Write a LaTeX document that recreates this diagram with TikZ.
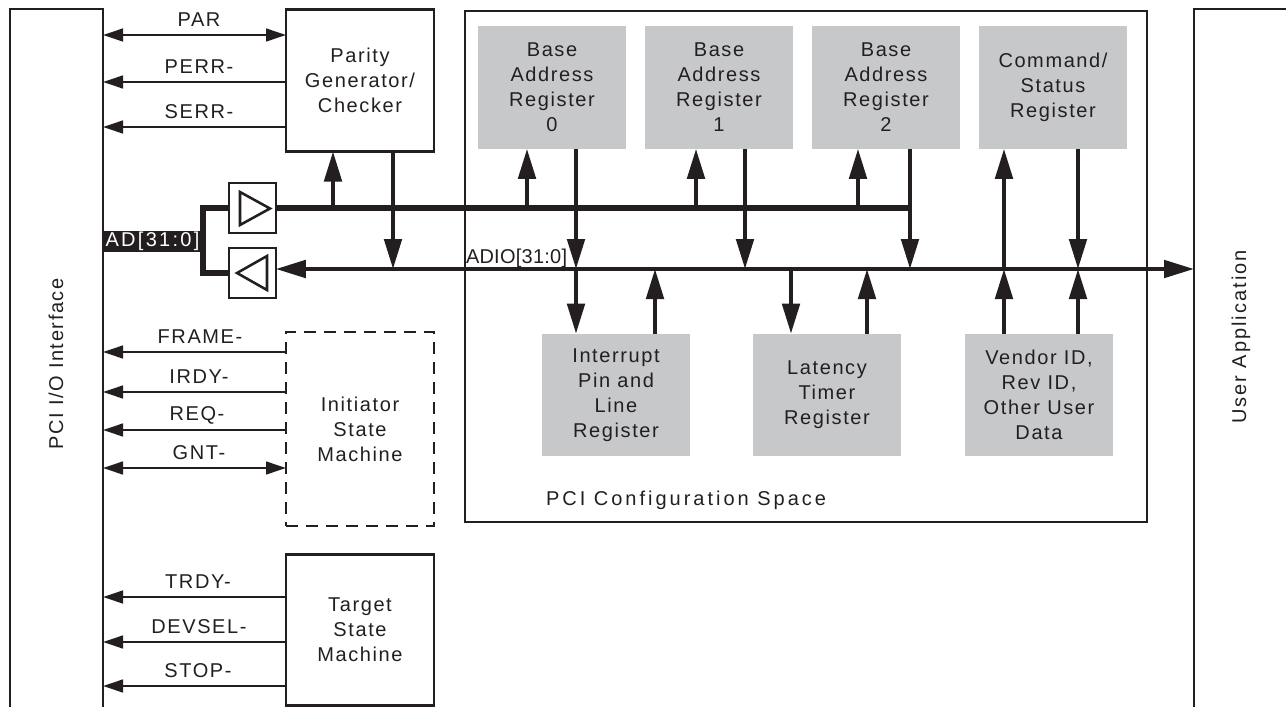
\documentclass[tikz,border=0pt]{standalone}
\usepackage{fontspec}
\setmainfont[LetterSpace=8]{Liberation Sans}
\usetikzlibrary{arrows.meta}
\definecolor{ink}{HTML}{231F20}
\definecolor{reg}{HTML}{C7C8CA}
\tikzset{
  x=0.75pt,y=-0.75pt,
  every node/.style={font=\fontsize{15pt}{18.75pt}\selectfont,text=ink,align=center,inner sep=0pt,outer sep=0pt},
  regbox/.style={fill=reg,minimum width=111pt,minimum height=92pt},
  blockbox/.style={draw=ink,line width=1.9pt,minimum width=111pt},
  edge/.style={draw=ink,line width=1.9pt},
  sig/.style={draw=ink,line width=1.9pt,-{Triangle[length=15pt,width=9.5pt]}},
  sigtwo/.style={draw=ink,line width=1.9pt,{Triangle[length=15pt,width=9.5pt]}-{Triangle[length=15pt,width=9.5pt]}},
  vert/.style={draw=ink,line width=3pt,-{Triangle[length=22.5pt,width=13pt]}},
  busa/.style={draw=ink,line width=3.8pt},
  busb/.style={draw=ink,line width=3pt,{Triangle[length=22.5pt,width=13pt]}-{Triangle[length=22.5pt,width=13pt]}},
  siglabel/.style={anchor=center},
  buf/.style={draw=ink,line width=1.9pt,minimum width=35pt,minimum height=37.5pt},
  tri/.style={draw=ink,line width=1.9pt,line join=miter},
}
\begin{document}
\begin{tikzpicture}
\useasboundingbox (0,0) rectangle (1286,707);
% side blocks
\node[minimum width=69.75pt,minimum height=523.5pt] (pci) at (56.5,358) {};
\node[minimum width=69pt,minimum height=523.5pt] (user) at (1240,358) {};
\draw[edge] (pci.south west) -- (pci.north west) -- (pci.north east) -- (pci.south east);
\draw[edge] (user.south west) -- (user.north west) -- (user.north east);
\node[rotate=90] (pcit) at (56,364) {PCI I/O Interface};
\node[rotate=90] (usert) at (1241,337) {\addfontfeature{LetterSpace=10}User Application};
% left blocks
\node[blockbox,minimum height=106.5pt] (parity) at (360,80.5) {Parity\\Generator/\\Checker};
\node[draw=ink,line width=1.9pt,dash pattern=on 9pt off 6pt,minimum width=111pt,minimum height=145.5pt] (init) at (360,429) {Initiator\\State\\Machine};
\node[blockbox,minimum height=113pt] (target) at (360,630) {Target\\State\\Machine};
% configuration space
\node[draw=ink,line width=1.9pt,minimum width=511.5pt,minimum height=383.25pt] (cfg) at (806,266.5) {};
\node[anchor=west] (cfgt) at (546,500) {\addfontfeature{LetterSpace=15}PCI Configuration Space};
\node[regbox] (bar0) at (552,87.5) {Base\\Address\\Register\\0};
\node[regbox] (bar1) at (719,87.5) {Base\\Address\\Register\\1};
\node[regbox] (bar2) at (886,87.5) {Base\\Address\\Register\\2};
\node[regbox] (cmd) at (1053,87.5) {Command/\\Status\\Register};
\node[regbox] (irq) at (616,395) {Interrupt\\Pin and\\Line\\Register};
\node[regbox] (lat) at (827,395) {Latency\\Timer\\Register};
\node[regbox] (ven) at (1039,395) {Vendor ID,\\Rev ID,\\Other User\\Data};
% buffers
\node[buf] (bufo) at (252.5,208) {};
\node[buf] (bufi) at (252.5,273) {};
\draw[tri] (240,192) -- (270,208.5) -- (240,225) -- cycle;
\draw[tri] (267,256) -- (237,273) -- (267,290) -- cycle;
\node[fill=ink,minimum width=73.5pt,minimum height=15.75pt,text=white] (ad) at (152.5,241.5) {\addfontfeature{LetterSpace=11.5}AD[31:0]};
\coordinate (brk) at (203,241.5);
% rows and columns
\coordinate (ytop) at (0,208);
\coordinate (yadio) at (0,269);
\coordinate (busend) at (910,208);
\draw[busa,line join=miter] (bufo.west) -| (brk) |- (bufi.west);
\draw[busa] (bufo.east) -- (busend);
\draw[busb] (bufi.east |- yadio) -- (user.west |- yadio);
\node[anchor=west] (adio) at (466,258) {\addfontfeature{LetterSpace=1.2}ADIO[31:0]};
% signals
\foreach \nm/\yy/\xx/\lbl/\blk in {perr/82/199/PERR-/parity,serr/127/199/SERR-/parity,frame/352/200/FRAME-/init,irdy/392/199/IRDY-/init,req/430/197/REQ-/init,trdy/597/198/TRDY-/target,devsel/642/199/DEVSEL-/target,stop/686/198/STOP-/target}{
  \coordinate (r\nm) at (0,\yy);
  \draw[sig] (\blk.west |- r\nm) -- (pci.east |- r\nm);
  \node[siglabel] (l\nm) at (\xx,\yy-15) {\lbl};
}
\foreach \nm/\yy/\xx/\lbl/\blk in {par/35/199/PAR/parity,gnt/468/199/GNT-/init}{
  \coordinate (r\nm) at (0,\yy);
  \draw[sigtwo] (\blk.west |- r\nm) -- (pci.east |- r\nm);
  \node[siglabel] (l\nm) at (\xx,\yy-15) {\lbl};
}
% verticals from the upper bus up
\foreach \cx/\blk in {333/parity,527/bar0,696/bar1,858/bar2}{
  \coordinate (c\cx) at (\cx,0);
  \draw[vert] (c\cx |- ytop) -- (c\cx |- \blk.south);
}
% register and block outputs down to ADIO
\foreach \cx/\blk in {393/parity,745/bar1,910/bar2,1078/cmd}{
  \coordinate (c\cx) at (\cx,0);
  \draw[vert] (c\cx |- \blk.south) -- (c\cx |- yadio);
}
% bar0 down through the bus into the interrupt block
\coordinate (c576) at (576,0);
\draw[vert] (c576 |- bar0.south) -- (c576 |- yadio);
\draw[vert] (c576 |- yadio) -- (c576 |- irq.north);
% lower blocks
\foreach \cx/\blk in {655/irq,867/lat,1004/ven,1078/ven}{
  \coordinate (c\cx) at (\cx,0);
  \draw[vert] (c\cx |- \blk.north) -- (c\cx |- yadio);
}
\coordinate (c791) at (791,0);
\draw[vert] (c791 |- yadio) -- (c791 |- lat.north);
\coordinate (c1004) at (1004,0);
\draw[vert] (c1004 |- yadio) -- (c1004 |- cmd.south);
\end{tikzpicture}
\end{document}
